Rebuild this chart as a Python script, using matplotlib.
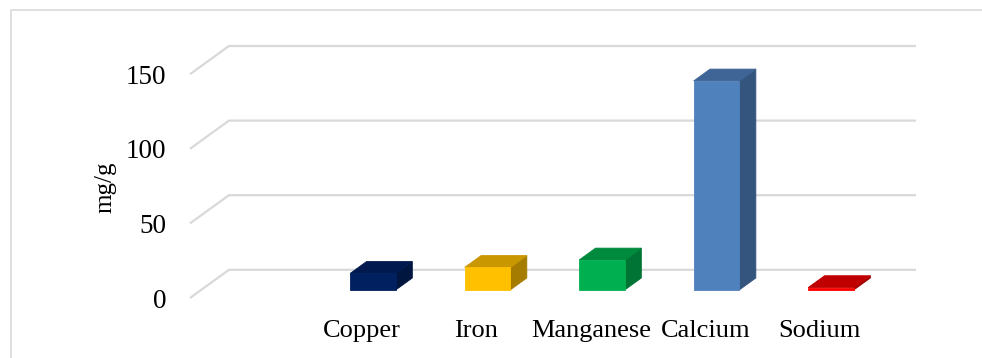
import matplotlib
matplotlib.use("Agg")
import matplotlib.pyplot as plt
from matplotlib.patches import Polygon, Rectangle

# ---- data ----
categories = ["Copper", "Iron", "Manganese", "Calcium", "Sodium"]
values = [11, 15, 20, 140, 1.5]
y_ticks = [0, 50, 100, 150]
y_label = "mg/g"
front_colors = ["#002060", "#FFC000", "#00B050", "#4F81BD", "#FF0000"]
top_colors = ["#001a4f", "#C99700", "#008A3E", "#3E6595", "#C00000"]
side_colors = ["#00163f", "#A67C00", "#007434", "#34557D", "#A00000"]

# ---- pseudo-3D geometry (data units) ----
DX = 0.34   # depth offset along x (category units)
DY = 18.9   # depth offset along y (value units)
BAR_W = 0.40
D0, D1 = 0.29, 0.71  # bar depth range (fraction of floor depth)
n_slots = len(categories) + 1  # leading empty slot

plt.rcParams["font.family"] = ["Liberation Serif", "DejaVu Serif"]

fig = plt.figure(figsize=(9.82, 3.58), dpi=100)
W, H = 982, 358
ax = fig.add_axes([190 / W, (H - 298) / H, (916 - 190) / W, (298 - 46) / H])
ax.set_xlim(-0.5, n_slots - 0.5 + DX)
ax.set_ylim(0, y_ticks[-1] + DY)
for s in ax.spines.values():
    s.set_visible(False)
ax.patch.set_alpha(0)

def P(x, v, d):
    return (x + d * DX, v + d * DY)

# gridlines (front-left diagonal + back wall line)
for t in y_ticks:
    pts = [P(-0.5, t, 0), P(-0.5, t, 1), P(n_slots - 0.5, t, 1)]
    ax.plot([p[0] for p in pts], [p[1] for p in pts], color="#D9D9D9",
            lw=1.6, zorder=1, clip_on=False, solid_capstyle="butt")

# bars
for i, (v, fc, tc, sc) in enumerate(zip(values, front_colors, top_colors, side_colors)):
    x = i + 1
    l, r = x - BAR_W / 2, x + BAR_W / 2
    side = [P(r, 0, D0), P(r, 0, D1), P(r, v, D1), P(r, v, D0)]
    top = [P(l, v, D0), P(r, v, D0), P(r, v, D1), P(l, v, D1)]
    front = [P(l, 0, D0), P(r, 0, D0), P(r, v, D0), P(l, v, D0)]
    for poly, c in ((side, sc), (top, tc), (front, fc)):
        ax.add_patch(Polygon(poly, closed=True, facecolor=c, edgecolor=c,
                             lw=0.6, zorder=3 + i, clip_on=False))

ax.set_yticks(y_ticks)
ax.set_yticklabels([str(t) for t in y_ticks], fontsize=19.5)
ax.set_xticks(range(1, n_slots))
ax.set_xticklabels(categories, fontsize=19)
ax.tick_params(axis="y", length=0, pad=17)
ax.tick_params(axis="x", length=0, pad=16)

fig.text(105 / W, 1 - 187 / H, y_label, rotation=90, fontsize=18,
         ha="center", va="center")

# chart border
fig.patches.append(Rectangle((11 / W, -0.1), 1.2, (H - 10) / H + 0.1,
                             transform=fig.transFigure, fill=False,
                             edgecolor="#D9D9D9", lw=1.2))

fig.savefig("out.png", dpi=100)
